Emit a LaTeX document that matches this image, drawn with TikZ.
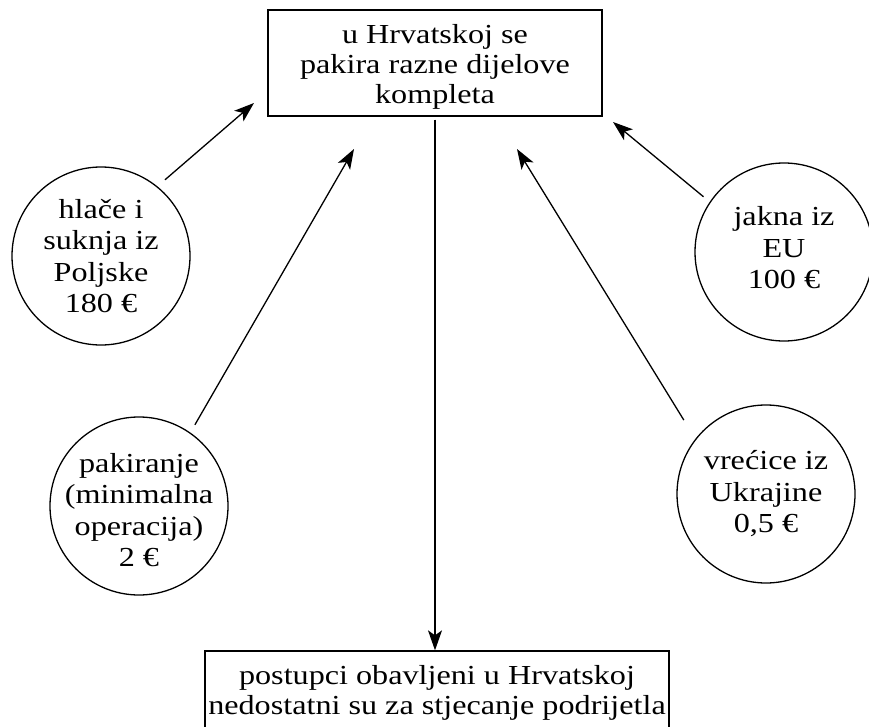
\documentclass[tikz,border=0pt]{standalone}
\usepackage{fontspec}
\setmainfont{Liberation Serif}[FakeStretch=1.17]
\usetikzlibrary{arrows.meta}
\tikzset{
  boxnode/.style={draw, line width=1.3pt, inner sep=0pt},
  txt/.style={inner sep=0pt, align=center, font=\fontsize{27.5}{30}\selectfont},
  ctxt/.style={inner sep=0pt, align=center, font=\fontsize{27.5}{31.5}\selectfont},
  circnode/.style={draw, circle, line width=1.3pt, inner sep=0pt, minimum size=178pt},
  arr/.style={line width=1.3pt, -{Stealth[length=20pt,width=14pt,inset=5pt]}}
}
\begin{document}
\begin{tikzpicture}[x=1pt,y=-1pt]
\useasboundingbox (0,0) rectangle (869,727);
\node[boxnode, minimum width=334pt, minimum height=106pt] (top) at (435,63) {};
\node[txt] (toptext) at (435,66.5) {u Hrvatskoj se\\pakira razne dijelove\\kompleta};
\node[boxnode, minimum width=464pt, minimum height=78pt] (bot) at (437,690) {};
\node[txt] (bottext) at (437,693) {postupci obavljeni u Hrvatskoj\\nedostatni su za stjecanje podrijetla};
\node[circnode] (c1) at (101,256) {};
\node[ctxt] (c1t) at (101,256) {hlače i\\suknja iz\\Poljske\\180 €};
\node[circnode] (c2) at (784,252) {};
\node[ctxt] (c2t) at (784,248) {jakna iz\\EU\\100 €};
\node[circnode] (c3) at (139,506) {};
\node[ctxt] (c3t) at (139,510) {pakiranje\\(minimalna\\operacija)\\2 €};
\node[circnode] (c4) at (766,494) {};
\node[ctxt] (c4t) at (766,494) {vrećice iz\\Ukrajine\\0,5 €};
\coordinate (t1) at (254,103);
\coordinate (t2) at (613,122);
\coordinate (t3) at (354,149);
\coordinate (t4) at (517,149);
\draw[arr, shorten <=10pt] (c1.51) -- (t1);
\draw[arr, shorten <=8pt] (c2.146) -- (t2);
\draw[arr, shorten <=9pt] (c3.55) -- (t3);
\draw[arr, shorten <=22pt] (c4.142) -- (t4);
\draw[arr, shorten <=3pt] (top.south) -- (top.south |- bot.north);
\end{tikzpicture}
\end{document}
